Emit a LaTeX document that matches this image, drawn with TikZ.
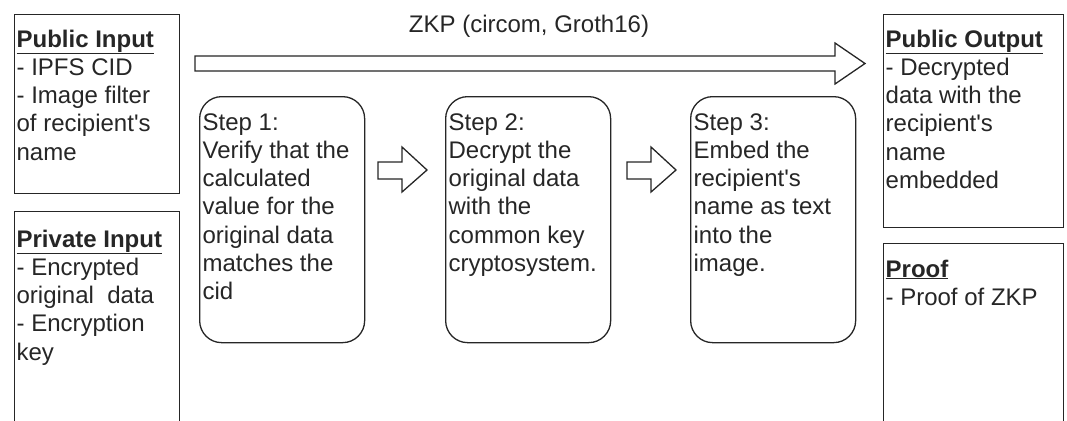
\documentclass[tikz,border=0pt]{standalone}
\usepackage{fontspec}
\setmainfont{Liberation Sans}
\newcommand{\apos}{\textquotesingle}
\begin{document}
\begin{tikzpicture}[x=1pt,y=-1pt,
  line width=1.3pt,
  panel/.style={draw=black!85, fill=white, rectangle, inner sep=0pt, anchor=north west},
  stepbox/.style={draw=black!85, fill=white, rectangle, rounded corners=22pt, inner sep=0pt,
    anchor=north west, minimum width=165pt, minimum height=246pt},
  txt/.style={anchor=base west, align=left, inner sep=0pt, text=black!85,
    font=\fontsize{24}{28.3}\selectfont},
  blockarrow/.style={draw=black!85, fill=white, line join=miter}]
\useasboundingbox (0,0) rectangle (1067,420);

% input panels (text nodes are placed by the baseline of their last line)
\node[panel, minimum width=165pt, minimum height=179pt] (pubin) at (14,14) {};
\node[panel, minimum width=165pt, minimum height=230pt] (privin) at (14,211) {};
\node[txt] (pubintxt) at (16,160.2) {\underline{\textbf{Public Input}}\\- IPFS CID\\- Image filter\\of recipient\apos s\\name};
\node[txt] (privintxt) at (16,360.2) {\underline{\textbf{Private Input}}\\- Encrypted\\original\ \ data\\- Encryption\\key};

% output panels
\node[panel, minimum width=180pt, minimum height=213pt] (pubout) at (883,14) {};
\node[panel, minimum width=180pt, minimum height=200pt] (proof) at (883,243) {};
\node[txt] (pubouttxt) at (885,188.5) {\underline{\textbf{Public Output}}\\- Decrypted\\data with the\\recipient\apos s\\name\\embedded};
\node[txt] (prooftxt) at (885,305.3) {\underline{\textbf{Proof}}\\- Proof of ZKP};

% circuit steps
\node[stepbox] (s1) at (199,96) {};
\node[stepbox] (s2) at (445,96) {};
\node[stepbox] (s3) at (690,96) {};
\node[txt] (s1txt) at (202,299.8) {Step 1:\\Verify that the\\calculated\\value for the\\original data\\matches the\\cid};
\node[txt] (s2txt) at (448,271.5) {Step 2:\\Decrypt the\\original data\\with the\\common key\\cryptosystem.};
\node[txt] (s3txt) at (693,271.5) {Step 3:\\Embed the\\recipient\apos s\\name as text\\into the\\image.};

% proving system label and arrow
\node[txt, anchor=base] (zkp) at (529,33) {ZKP (circom, Groth16)};
\draw[blockarrow] (195,56) -- (835,56) -- (835,43) -- (865,63.5) -- (835,84) -- (835,71) -- (195,71) -- cycle;

% step-to-step arrows
\draw[blockarrow] (378,162) -- (402,162) -- (402,147) -- (427,170) -- (402,192) -- (402,179) -- (378,179) -- cycle;
\draw[blockarrow] (627,162) -- (651,162) -- (651,147) -- (676,170) -- (651,192) -- (651,179) -- (627,179) -- cycle;
\end{tikzpicture}
\end{document}
